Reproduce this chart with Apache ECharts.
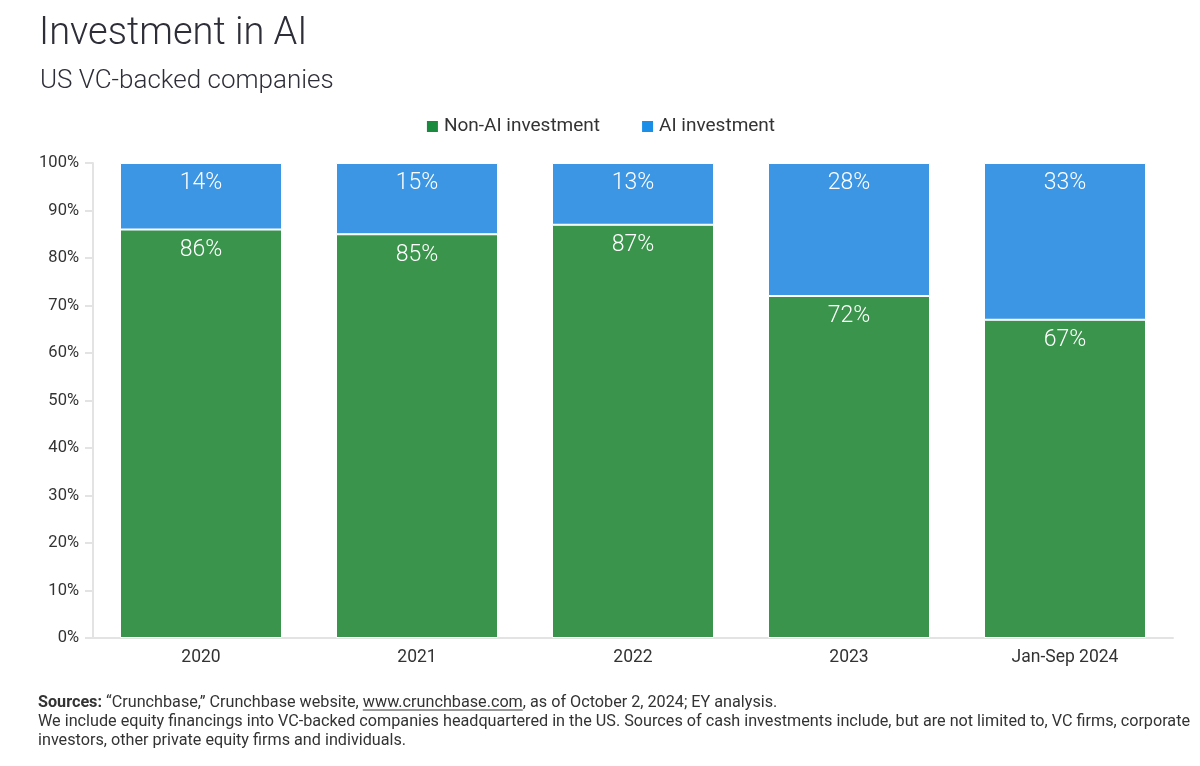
<!DOCTYPE html>
<html>
<head>
<meta charset="utf-8">
<title>Investment in AI</title>
<script src="https://cdn.jsdelivr.net/npm/echarts@6/dist/echarts.min.js"></script>
<style>
  html, body { margin: 0; padding: 0; background: #fff; }
  #chart { width: 1200px; height: 766px; }
</style>
</head>
<body>
<div id="chart"></div>
<script>
// data
var years     = ["2020", "2021", "2022", "2023", "Jan-Sep 2024"];
var nonAiPct  = [86, 85, 87, 72, 67];
var aiPct     = [14, 15, 13, 28, 33];
var yTicks    = [0, 10, 20, 30, 40, 50, 60, 70, 80, 90, 100];

var FONT = "Roboto";
var chart = echarts.init(document.getElementById('chart'));

var footLine1a = "\u201cCrunchbase,\u201d Crunchbase website, ";
var footLink   = "www.crunchbase.com";
var footLine1b = ", as of October 2, 2024; EY analysis.";
var footLine2  = "We include equity financings into VC-backed companies headquartered in the US. Sources of cash investments include, but are not limited to, VC firms, corporate";
var footLine3  = "investors, other private equity firms and individuals.";

// measure where the link sits so it can be underlined
function textWidth(txt, weight, size){
    var c = document.createElement('canvas').getContext('2d');
    c.font = weight + " " + size + "px " + FONT;
    return c.measureText(txt).width;
}
var footX = 38, footY = 693, footSize = 16.2, footLH = 19;
var linkX = footX + textWidth("Sources: ", "bold", footSize) + textWidth(footLine1a, "normal", footSize);
var linkW = textWidth(footLink, "normal", footSize);

var option = {
    animation: false,
    textStyle: { fontFamily: FONT },
    title: [{
        text: "Investment in AI",
        left: 34,
        top: 10,
        textStyle: { fontSize: 38, fontWeight: 300, color: '#2e2e38', fontFamily: FONT }
    }, {
        text: "US VC-backed companies",
        left: 35,
        top: 63,
        textStyle: { fontSize: 26, fontWeight: 300, color: '#2e2e38', fontFamily: FONT }
    }],
    legend: {
        top: 112,
        left: 'center',
        itemWidth: 13,
        itemHeight: 13,
        itemGap: 40,
        icon: 'rect',
        textStyle: { fontSize: 19, color: '#333333', fontFamily: FONT },
        data: [
            { name: "Non-AI investment", itemStyle: { color: '#1a8a3e' } },
            { name: "AI investment", itemStyle: { color: '#1b8fe8' } }
        ]
    },
    grid: { left: 93, right: 27, top: 163, bottom: 128, containLabel: false },
    xAxis: {
        type: 'category',
        data: years,
        axisLine: { lineStyle: { color: '#e3e3e3', width: 2 } },
        axisTick: { alignWithLabel: true, length: 6, lineStyle: { color: '#e3e3e3', width: 2 } },
        axisLabel: { fontSize: 17.5, color: '#333333', margin: 11 }
    },
    yAxis: {
        type: 'value',
        min: yTicks[0],
        max: yTicks[yTicks.length - 1],
        interval: yTicks[1] - yTicks[0],
        axisLine: { show: true, lineStyle: { color: '#e3e3e3', width: 2 } },
        axisTick: { show: true, length: 8, lineStyle: { color: '#e3e3e3', width: 2 } },
        axisLabel: { formatter: '{value}%', fontSize: 16.5, color: '#333333', margin: 14 },
        splitLine: { show: false }
    },
    series: [{
        name: "Non-AI investment",
        type: 'bar',
        stack: 'total',
        barCategoryGap: '25%',
        data: nonAiPct,
        itemStyle: { color: '#3a944c', borderColor: '#ffffff', borderWidth: 1 },
        label: {
            show: true, position: 'insideTop', distance: 9,
            formatter: '{c}%', fontSize: 23, fontWeight: 300, color: '#ffffff'
        }
    }, {
        name: "AI investment",
        type: 'bar',
        stack: 'total',
        barCategoryGap: '25%',
        data: aiPct,
        itemStyle: { color: '#3c96e3', borderColor: '#ffffff', borderWidth: 1 },
        label: {
            show: true, position: 'insideTop', distance: 9,
            formatter: '{c}%', fontSize: 23, fontWeight: 300, color: '#ffffff'
        }
    }],
    graphic: [{
        type: 'text',
        left: footX,
        top: footY,
        style: {
            text: "{b|Sources:} " + footLine1a + footLink + footLine1b + "\n" + footLine2 + "\n" + footLine3,
            fontSize: footSize,
            lineHeight: footLH,
            fontFamily: FONT,
            fill: '#333333',
            rich: {
                b: { fontWeight: 'bold', fontSize: footSize, lineHeight: footLH, fontFamily: FONT, fill: '#333333' }
            }
        }
    }, {
        type: 'line',
        shape: { x1: linkX, y1: footY + 17, x2: linkX + linkW, y2: footY + 17 },
        style: { stroke: '#333333', lineWidth: 1 }
    }]
};

chart.setOption(option);
</script>
</body>
</html>
